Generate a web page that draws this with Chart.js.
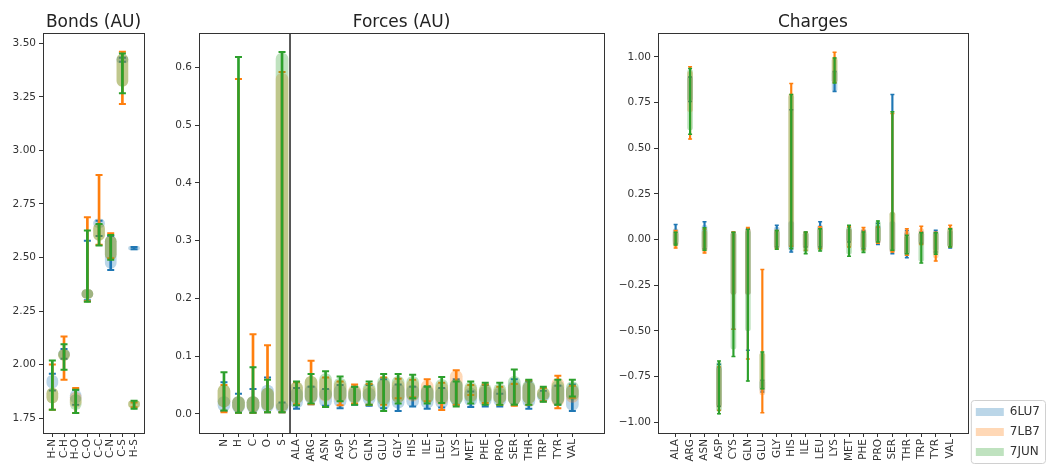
<!DOCTYPE html>
<html>
<head>
<meta charset="utf-8">
<script src="https://cdn.jsdelivr.net/npm/chart.js@4.4.0/dist/chart.umd.min.js"></script>
<style>
  html, body { margin: 0; padding: 0; background: #fff; }
  .panel { position: absolute; top: 0; height: 466px; }
  #bondsBox { left: 0; width: 150px; }
  #forcesBox { left: 150px; width: 460px; }
  #chargesBox { left: 610px; width: 440px; }
</style>
</head>
<body>
<div class="panel" id="bondsBox"><canvas id="bondsChart"></canvas></div>
<div class="panel" id="forcesBox"><canvas id="forcesChart"></canvas></div>
<div class="panel" id="chargesBox"><canvas id="chargesChart"></canvas></div>
<script>
// series
const seriesNames = ['6LU7', '7LB7', '7JUN'];
const seriesColors = ['#1f77b4', '#ff7f0e', '#2ca02c'];
const bodyColors = ['rgba(31,119,180,0.3)', 'rgba(255,127,14,0.3)', 'rgba(44,160,44,0.3)'];

// ---- Bonds (AU) ----
const bondLabels = ['H-N', 'C-H', 'H-O', 'C-O', 'C-C', 'C-N', 'C-S', 'H-S'];
const bondMin6LU7 = [1.879, 2.027, 1.812, 2.300, 2.600, 2.442, 3.414, 2.539];
const bondMax6LU7 = [1.957, 2.073, 1.882, 2.578, 2.672, 2.600, 3.433, 2.549];
const bondLo6LU7  = [1.89, 2.03, 1.82, 2.31, 2.64, 2.45, 3.41, 2.535];
const bondHi6LU7  = [1.95, 2.07, 1.88, 2.35, 2.68, 2.60, 3.44, 2.552];
const bondMin7LB7 = [1.789, 1.929, 1.773, 2.295, 2.560, 2.497, 3.217, 1.800];
const bondMax7LB7 = [2.000, 2.131, 1.890, 2.688, 2.885, 2.613, 3.461, 1.822];
const bondLo7LB7  = [1.82, 2.02, 1.80, 2.31, 2.58, 2.49, 3.30, 1.80];
const bondHi7LB7  = [1.89, 2.07, 1.87, 2.35, 2.66, 2.60, 3.45, 1.83];
const bondMin7JUN = [1.789, 1.975, 1.773, 2.293, 2.556, 2.489, 3.267, 1.793];
const bondMax7JUN = [2.019, 2.095, 1.882, 2.626, 2.657, 2.605, 3.453, 1.831];
const bondLo7JUN  = [1.82, 2.02, 1.79, 2.31, 2.58, 2.49, 3.30, 1.80];
const bondHi7JUN  = [1.89, 2.07, 1.86, 2.35, 2.66, 2.60, 3.45, 1.83];

// ---- Forces (AU) ----
const forceLabels = ['N', 'H', 'C', 'O', 'S', 'ALA', 'ARG', 'ASN', 'ASP', 'CYS', 'GLN', 'GLU', 'GLY',
  'HIS', 'ILE', 'LEU', 'LYS', 'MET', 'PHE', 'PRO', 'SER', 'THR', 'TRP', 'TYR', 'VAL'];
const forceMin6LU7 = [0.005, 0.002, 0.002, 0.003, 0.003, 0.009, 0.017, 0.014, 0.010, 0.016, 0.014, 0.010, 0.005,
  0.013, 0.009, 0.011, 0.016, 0.012, 0.013, 0.013, 0.016, 0.009, 0.022, 0.016, 0.005];
const forceMax6LU7 = [0.055, 0.035, 0.043, 0.063, 0.020, 0.045, 0.047, 0.043, 0.050, 0.047, 0.050, 0.060, 0.051,
  0.047, 0.048, 0.045, 0.060, 0.039, 0.050, 0.035, 0.060, 0.056, 0.040, 0.049, 0.051];
const forceLo6LU7 = [0.005, 0.002, 0.002, 0.004, 0.003, 0.010, 0.018, 0.012, 0.012, 0.018, 0.016, 0.008, 0.010,
  0.012, 0.010, 0.010, 0.016, 0.014, 0.014, 0.014, 0.016, 0.012, 0.022, 0.016, 0.006];
const forceHi6LU7 = [0.030, 0.030, 0.030, 0.050, 0.020, 0.045, 0.050, 0.045, 0.050, 0.045, 0.045, 0.060, 0.052,
  0.050, 0.048, 0.046, 0.060, 0.045, 0.048, 0.045, 0.058, 0.055, 0.040, 0.052, 0.050];
const forceMin7LB7 = [0.003, 0.002, 0.002, 0.003, 0.003, 0.017, 0.017, 0.012, 0.015, 0.018, 0.016, 0.016, 0.027,
  0.029, 0.022, 0.007, 0.016, 0.033, 0.019, 0.016, 0.014, 0.016, 0.022, 0.010, 0.028];
const forceMax7LB7 = [0.050, 0.580, 0.138, 0.119, 0.592, 0.055, 0.092, 0.063, 0.056, 0.051, 0.052, 0.063, 0.061,
  0.059, 0.060, 0.054, 0.0755, 0.050, 0.051, 0.047, 0.052, 0.058, 0.045, 0.066, 0.049];
const forceLo7LB7 = [0.012, 0.004, 0.004, 0.006, 0.005, 0.018, 0.020, 0.022, 0.020, 0.020, 0.022, 0.018, 0.020,
  0.022, 0.020, 0.015, 0.018, 0.022, 0.020, 0.018, 0.016, 0.018, 0.025, 0.014, 0.020];
const forceHi7LB7 = [0.050, 0.030, 0.030, 0.045, 0.590, 0.055, 0.065, 0.065, 0.058, 0.050, 0.050, 0.060, 0.060,
  0.060, 0.058, 0.055, 0.075, 0.052, 0.050, 0.048, 0.055, 0.055, 0.045, 0.062, 0.050];
const forceMin7JUN = [0.006, 0.002, 0.002, 0.003, 0.003, 0.015, 0.018, 0.012, 0.022, 0.016, 0.016, 0.005, 0.018,
  0.027, 0.018, 0.019, 0.013, 0.018, 0.016, 0.016, 0.016, 0.016, 0.021, 0.016, 0.030];
const forceMax7JUN = [0.072, 0.618, 0.081, 0.059, 0.627, 0.056, 0.069, 0.074, 0.065, 0.047, 0.056, 0.069, 0.069,
  0.068, 0.047, 0.064, 0.056, 0.056, 0.054, 0.054, 0.077, 0.059, 0.047, 0.059, 0.059];
const forceLo7JUN = [0.012, 0.004, 0.004, 0.006, 0.005, 0.018, 0.020, 0.024, 0.022, 0.020, 0.022, 0.015, 0.020,
  0.024, 0.018, 0.018, 0.016, 0.020, 0.018, 0.018, 0.016, 0.018, 0.024, 0.016, 0.024];
const forceHi7JUN = [0.050, 0.030, 0.030, 0.045, 0.625, 0.055, 0.065, 0.070, 0.062, 0.048, 0.054, 0.065, 0.065,
  0.065, 0.050, 0.060, 0.060, 0.055, 0.052, 0.052, 0.065, 0.058, 0.046, 0.058, 0.056];

// ---- Charges ----
const chargeLabels = ['ALA', 'ARG', 'ASN', 'ASP', 'CYS', 'GLN', 'GLU', 'GLY', 'HIS', 'ILE',
  'LEU', 'LYS', 'MET', 'PHE', 'PRO', 'SER', 'THR', 'TRP', 'TYR', 'VAL'];
const chargeMin6LU7 = [-0.022, 0.755, -0.05, -0.912, -0.49, -0.606, -0.834, -0.04, -0.068, -0.04,
  -0.04, 0.81, -0.013, -0.05, -0.027, -0.077, -0.099, -0.02, -0.068, -0.046];
const chargeMax6LU7 = [0.082, 0.89, 0.097, -0.682, 0.04, 0.06, -0.77, 0.078, 0.71, 0.04,
  0.097, 0.92, 0.07, 0.05, 0.09, 0.794, 0.05, 0.042, 0.051, 0.06];
const chargeLo6LU7 = [-0.02, 0.76, -0.05, -0.91, -0.3, -0.3, -0.83, -0.04, -0.06, -0.04,
  -0.04, 0.81, -0.01, -0.05, -0.02, -0.07, -0.09, -0.02, -0.06, -0.04];
const chargeHi6LU7 = [0.06, 0.89, 0.08, -0.69, 0.04, 0.06, -0.77, 0.07, 0.1, 0.04,
  0.08, 0.92, 0.06, 0.05, 0.08, 0.1, 0.04, 0.04, 0.05, 0.05];
const chargeMin7LB7 = [-0.046, 0.55, -0.073, -0.934, -0.49, -0.653, -0.947, -0.05, -0.036, -0.058,
  -0.05, 0.86, -0.04, -0.055, -0.02, -0.068, -0.086, -0.027, -0.117, -0.04];
const chargeMax7LB7 = [0.05, 0.945, 0.058, -0.697, 0.042, 0.066, -0.164, 0.05, 0.854, 0.04,
  0.07, 1.025, 0.07, 0.066, 0.069, 0.69, 0.06, 0.073, 0.04, 0.078];
const chargeLo7LB7 = [-0.04, 0.7, -0.07, -0.92, -0.3, -0.3, -0.85, -0.05, -0.04, -0.05,
  -0.05, 0.86, -0.04, -0.05, -0.02, -0.07, -0.08, -0.03, -0.1, -0.04];
const chargeHi7LB7 = [0.05, 0.92, 0.05, -0.70, 0.04, 0.06, -0.62, 0.05, 0.8, 0.04,
  0.07, 1.0, 0.06, 0.06, 0.07, 0.15, 0.05, 0.06, 0.04, 0.07];
const chargeMin7JUN = [-0.03, 0.576, -0.058, -0.953, -0.639, -0.774, -0.816, -0.053, -0.05, -0.077,
  -0.062, 0.857, -0.091, -0.071, -0.013, -0.058, -0.077, -0.128, -0.08, -0.04];
const chargeMax7JUN = [0.04, 0.936, 0.065, -0.664, 0.04, 0.055, -0.615, 0.05, 0.794, 0.042,
  0.06, 0.994, 0.078, 0.042, 0.102, 0.699, 0.024, 0.038, 0.038, 0.06];
const chargeLo7JUN = [-0.03, 0.6, -0.06, -0.94, -0.6, -0.5, -0.82, -0.05, -0.05, -0.07,
  -0.06, 0.86, -0.08, -0.07, -0.01, -0.06, -0.08, -0.12, -0.08, -0.04];
const chargeHi7JUN = [0.04, 0.93, 0.06, -0.67, 0.04, 0.05, -0.62, 0.05, 0.79, 0.04,
  0.06, 0.99, 0.07, 0.04, 0.1, 0.15, 0.02, 0.04, 0.04, 0.06];

// axis limits
const forcesYMin = -0.033, forcesYMax = 0.659;
const forcesSplit = 4.55; // between S and ALA

Chart.defaults.font.family = 'DejaVu Sans';
Chart.defaults.color = '#333';

// frame round each plot area (matplotlib spines)
const frame = {
  id: 'frame',
  afterDatasetsDraw(chart) {
    const a = chart.chartArea, c = chart.ctx;
    c.save();
    c.strokeStyle = '#333';
    c.lineWidth = 1;
    c.strokeRect(Math.round(a.left) + 0.5, Math.round(a.top) + 0.5, Math.round(a.width), Math.round(a.height));
    c.restore();
  }
};

const legendFrame = {
  id: 'legendFrame',
  afterDraw(chart) {
    const lg = chart.legend;
    if (!lg || !lg.options.display || !lg.legendHitBoxes.length) return;
    const hb = lg.legendHitBoxes;
    const l = Math.min(...hb.map(b => b.left)) - 5;
    const t = Math.min(...hb.map(b => b.top)) - 6;
    const r = Math.max(...hb.map(b => b.left + b.width)) + 5;
    const b = Math.max(...hb.map(b => b.top + b.height)) + 5;
    const c = chart.ctx;
    c.save();
    c.strokeStyle = '#d0d0d0';
    c.lineWidth = 1;
    c.beginPath();
    c.roundRect(l + 0.5, t + 0.5, r - l, b - t, 3);
    c.stroke();
    c.restore();
  }
};

function buildSets(labels, stats, look) {
  const sets = [];
  stats.forEach((s, k) => {
    const [mins, maxs, los, his] = s;
    const base = 9 - 3 * k;
    sets.push({
      type: 'bar', label: seriesNames[k],
      data: labels.map((_, i) => ({x: i, y: [los[i], his[i]]})),
      backgroundColor: bodyColors[k], borderWidth: 0,
      barThickness: look.body, borderRadius: look.body / 2, borderSkipped: false,
      grouped: false, order: base
    });
    sets.push({
      type: 'bar', label: seriesNames[k] + ' range',
      data: labels.map((_, i) => ({x: i, y: [mins[i], maxs[i]]})),
      backgroundColor: seriesColors[k], borderWidth: 0,
      barThickness: look.line, grouped: false, order: base - 1
    });
    [mins, maxs].forEach(vals => sets.push({
      type: 'line', label: seriesNames[k] + ' cap',
      data: labels.map((_, i) => ({x: i, y: vals[i]})),
      showLine: false, pointStyle: 'line', pointRadius: look.cap,
      pointBorderWidth: look.line, borderColor: seriesColors[k], order: base - 2
    }));
  });
  return sets;
}

function fmt(v, d) {
  if (Math.abs(v) < 1e-9) v = 0;
  return (v < 0 ? '\u2212' : '') + Math.abs(v).toFixed(d);
}

function panelOptions(p) {
  return {
    responsive: true, maintainAspectRatio: false, animation: false, events: [],
    layout: {padding: {right: p.legend ? 0 : 5}},
    plugins: {
      title: {display: true, text: p.title, fullSize: false, color: '#222',
        font: {size: 17, weight: 'normal'}, padding: {top: 12, bottom: 1}},
      legend: p.legend ? {
        display: true, position: 'right', align: 'end',
        labels: {boxWidth: 28, boxHeight: 8, padding: 8, font: {size: 12}, color: '#333',
          filter: item => item.text.indexOf(' ') < 0,
          sort: (a, b) => a.datasetIndex - b.datasetIndex}
      } : {display: false},
      tooltip: {enabled: false}
    },
    scales: {
      x: {
        type: 'linear', min: p.xMin, max: p.xMax, offset: false,
        afterBuildTicks: s => { s.ticks = p.labels.map((_, i) => ({value: i})); },
        afterFit: s => { s.height = 33; },
        ticks: {autoSkip: false, minRotation: 90, maxRotation: 90, padding: 2,
          font: {size: 10.5}, callback: v => p.labels[v]},
        grid: {drawOnChartArea: false, offset: false, tickLength: 4, color: '#333'},
        border: {display: false}
      },
      y: {
        type: 'linear', min: p.yMin, max: p.yMax,
        afterFit: s => { s.width = p.yWidth; },
        ticks: {stepSize: p.yStep, includeBounds: false, padding: 3,
          font: {size: 10.5}, callback: v => fmt(v, p.yDigits)},
        grid: {drawOnChartArea: false, tickLength: 4, color: '#333'},
        border: {display: false}
      }
    }
  };
}

new Chart(document.getElementById('bondsChart'), {
  type: 'bar',
  data: {
    datasets: buildSets(bondLabels, [
      [bondMin6LU7, bondMax6LU7, bondLo6LU7, bondHi6LU7],
      [bondMin7LB7, bondMax7LB7, bondLo7LB7, bondHi7LB7],
      [bondMin7JUN, bondMax7JUN, bondLo7JUN, bondHi7JUN]
    ], {body: 11, line: 2, cap: 3.5})
  },
  options: panelOptions({title: 'Bonds (AU)', labels: bondLabels, xMin: -0.8, xMax: 7.85,
    yMin: 1.68, yMax: 3.547, yStep: 0.25, yDigits: 2, yWidth: 43}),
  plugins: [frame]
});

const forceSets = buildSets(forceLabels, [
  [forceMin6LU7, forceMax6LU7, forceLo6LU7, forceHi6LU7],
  [forceMin7LB7, forceMax7LB7, forceLo7LB7, forceHi7LB7],
  [forceMin7JUN, forceMax7JUN, forceLo7JUN, forceHi7JUN]
], {body: 12, line: 2, cap: 3.5});
forceSets.push({
  type: 'line', label: 'split line',
  data: [{x: forcesSplit, y: forcesYMin}, {x: forcesSplit, y: forcesYMax}],
  borderColor: '#222', borderWidth: 1.5, pointRadius: 0, order: -1
});

new Chart(document.getElementById('forcesChart'), {
  type: 'bar',
  data: {datasets: forceSets},
  options: panelOptions({title: 'Forces (AU)', labels: forceLabels, xMin: -1.72, xMax: 26.18,
    yMin: forcesYMin, yMax: forcesYMax, yStep: 0.1, yDigits: 1, yWidth: 49}),
  plugins: [frame]
});

new Chart(document.getElementById('chargesChart'), {
  type: 'bar',
  data: {
    datasets: buildSets(chargeLabels, [
      [chargeMin6LU7, chargeMax6LU7, chargeLo6LU7, chargeHi6LU7],
      [chargeMin7LB7, chargeMax7LB7, chargeLo7LB7, chargeHi7LB7],
      [chargeMin7JUN, chargeMax7JUN, chargeLo7JUN, chargeHi7JUN]
    ], {body: 5, line: 1.5, cap: 2})
  },
  options: panelOptions({title: 'Charges', labels: chargeLabels, xMin: -1.22, xMax: 20.22,
    yMin: -1.058, yMax: 1.128, yStep: 0.25, yDigits: 2, yWidth: 48, legend: true}),
  plugins: [frame, legendFrame]
});
</script>
</body>
</html>
